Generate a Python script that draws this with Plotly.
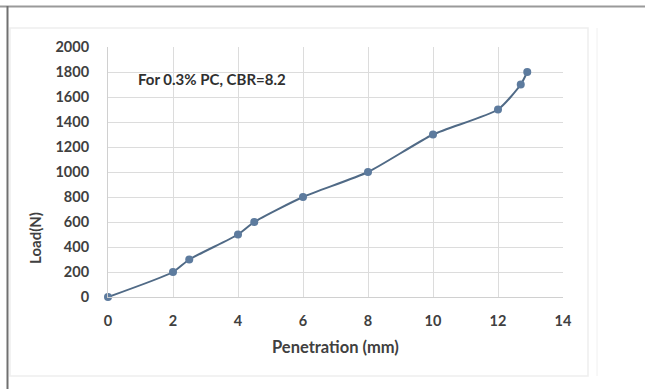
import plotly.graph_objects as go

penetration = [0, 2, 2.5, 4, 4.5, 6, 8, 10, 12, 12.7, 12.9]
load = [0, 200, 300, 500, 600, 800, 1000, 1300, 1500, 1700, 1800]
x_ticks = [0, 2, 4, 6, 8, 10, 12, 14]
y_ticks = [0, 200, 400, 600, 800, 1000, 1200, 1400, 1600, 1800, 2000]

L, R, T, B = 108, 563, 47, 297
W, H = 645, 389
def px(x):
    return (x - L) / (R - L)
def py(y):
    return (B - y) / (B - T)

fig = go.Figure()
fig.add_trace(go.Scatter(
    x=penetration, y=load, mode="lines+markers",
    line=dict(color="#506a86", width=2, shape="spline", smoothing=0.6),
    marker=dict(color="#5d7b9e", size=8),
    cliponaxis=False, showlegend=False,
))

tickfont = dict(family="Lato", size=14.5, color="#404040", weight="bold")
fig.update_layout(
    width=W, height=H,
    margin=dict(l=L, r=W - R, t=T, b=H - B),
    paper_bgcolor="white", plot_bgcolor="white",
    font=dict(family="Lato", size=12, color="#404040"),
    xaxis=dict(range=[0, 14], tickvals=x_ticks, showgrid=True, gridcolor="#dcdcdc",
               zeroline=False, showline=True, linecolor="#d0d0d0", ticks="",
               tickfont=tickfont, ticklabelstandoff=11),
    yaxis=dict(range=[0, 2000], tickvals=y_ticks, showgrid=True, gridcolor="#dcdcdc",
               zeroline=False, showline=True, linecolor="#d0d0d0", ticks="",
               tickfont=tickfont, ticklabelstandoff=15),
    shapes=[
        dict(type="line", xref="paper", yref="paper", x0=px(0), x1=px(645), y0=py(6.5), y1=py(6.5),
             line=dict(color="#9a9a9a", width=2)),
        dict(type="line", xref="paper", yref="paper", x0=px(7.5), x1=px(7.5), y0=py(6), y1=py(389),
             line=dict(color="#707070", width=2)),
        dict(type="rect", xref="paper", yref="paper", x0=px(10), x1=px(588), y0=py(28), y1=py(376),
             line=dict(color="#eeeeee", width=1.5), layer="below"),
        dict(type="line", xref="paper", yref="paper", x0=px(597), x1=px(597), y0=py(28), y1=py(376),
             line=dict(color="#f0f0f0", width=1)),
    ],
    annotations=[
        dict(text="For 0.3% PC, CBR=8.2", xref="paper", yref="paper", x=px(136), y=py(79),
             xanchor="left", yanchor="middle", showarrow=False,
             font=dict(family="Lato", size=15, color="#303030", weight="bold")),
        dict(text="Penetration (mm)", xref="paper", yref="paper", x=px(335), y=py(347),
             xanchor="center", yanchor="middle", showarrow=False,
             font=dict(family="Lato", size=16.5, color="#404040", weight="bold")),
        dict(text="Load(N)", xref="paper", yref="paper", x=px(35), y=py(238),
             xanchor="center", yanchor="middle", showarrow=False, textangle=-90,
             font=dict(family="Lato", size=15, color="#404040", weight="bold")),
    ],
)

fig.write_html("out.html")
